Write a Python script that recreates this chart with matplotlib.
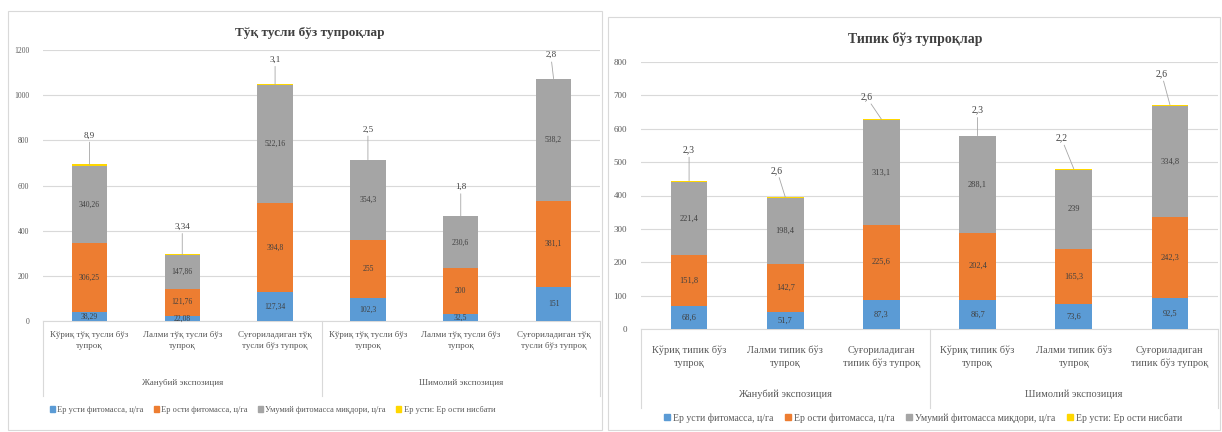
import matplotlib
matplotlib.use("Agg")
import matplotlib.pyplot as plt
from matplotlib.patches import Rectangle
from matplotlib.transforms import blended_transform_factory

plt.rcParams["font.family"] = ["Liberation Serif", "DejaVu Serif"]

# --- data -----------------------------------------------------------------
series_names = [
    "Ер усти фитомасса, ц/га",
    "Ер ости фитомасса, ц/га",
    "Умумий фитомасса миқдори, ц/га",
    "Ер усти: Ер ости нисбати",
]
groups = ["Жанубий экспозиция", "Шимолий экспозиция"]

dark_title = "Тўқ тусли бўз тупроқлар"
dark_cats = [
    "Кўриқ тўқ тусли бўз\nтупроқ", "Лалми тўқ тусли бўз\nтупроқ", "Суғориладиган тўқ\nтусли бўз тупроқ",
    "Кўриқ тўқ тусли бўз\nтупроқ", "Лалми тўқ тусли бўз\nтупроқ", "Суғориладиган тўқ\nтусли бўз тупроқ",
]
dark_above = [38.29, 22.08, 127.34, 102.3, 32.5, 151]
dark_below = [306.25, 121.76, 394.8, 255, 200, 381.1]
dark_total = [340.26, 147.86, 522.16, 354.3, 230.6, 538.2]
dark_ratio = [8.9, 3.34, 3.1, 2.5, 1.8, 2.8]
dark_yticks = [0, 200, 400, 600, 800, 1000, 1200]

typ_title = "Типик бўз тупроқлар"
typ_cats = [
    "Кўриқ типик бўз\nтупроқ", "Лалми типик бўз\nтупроқ", "Суғориладиган\nтипик бўз тупроқ",
    "Кўриқ типик бўз\nтупроқ", "Лалми типик бўз\nтупроқ", "Суғориладиган\nтипик бўз тупроқ",
]
typ_above = [68.6, 51.7, 87.3, 86.7, 73.6, 92.5]
typ_below = [151.8, 142.7, 225.6, 202.4, 165.3, 242.3]
typ_total = [221.4, 198.4, 313.1, 288.1, 239, 334.8]
typ_ratio = [2.3, 2.6, 2.6, 2.3, 2.2, 2.6]
typ_yticks = [0, 100, 200, 300, 400, 500, 600, 700, 800]

# label offsets (points) for the ratio call-outs
dark_offsets = [(0, 18), (0, 17), (0, 15), (0, 19), (0, 18), (-2, 14)]
typ_offsets = [(0, 19), (-6, 16), (-11, 13), (0, 15), (-9, 19), (-6, 19)]

colors = ["#5B9BD5", "#ED7D31", "#A5A5A5", "#FFD700"]
txt = "#404040"


def fmt(v):
    return f"{v:g}".replace(".", ",")


def draw(ax, cats, above, below, total, ratio, yticks, offsets, fs_tick, fs_val, xpad, gy):
    x = list(range(len(cats)))
    w = 0.38
    bottom = [0] * len(x)
    for vals, col in zip([above, below, total], colors[:3]):
        bars = ax.bar(x, vals, w, bottom=bottom, color=col, zorder=3)
        for b, v, b0 in zip(bars, vals, bottom):
            ax.text(b.get_x() + w / 2, b0 + v / 2, fmt(v), ha="center", va="center",
                    fontsize=fs_val, color=txt, zorder=4)
        bottom = [a + v for a, v in zip(bottom, vals)]
    ax.bar(x, ratio, w, bottom=bottom, color=colors[3], zorder=3)
    for xi, top, r, off in zip(x, bottom, ratio, offsets):
        ax.annotate(fmt(r), xy=(xi, top + r), xytext=off, textcoords="offset points",
                    ha="center", va="bottom", fontsize=fs_val + 1, color=txt,
                    arrowprops=dict(arrowstyle="-", color="#A6A6A6", lw=0.6,
                                    shrinkA=0, shrinkB=0))

    ax.set_xlim(-0.5, len(cats) - 0.5)
    ax.set_ylim(yticks[0], yticks[-1])
    ax.set_yticks(yticks)
    ax.tick_params(axis="y", length=0, labelsize=fs_tick - 1, colors="#595959", pad=10)
    ax.set_xticks(x)
    ax.set_xticklabels(cats, fontsize=fs_tick, color="#595959", linespacing=1.5)
    ax.tick_params(axis="x", length=0, pad=xpad)
    ax.grid(axis="y", color="#D9D9D9", lw=0.8, zorder=0)
    for s in ["top", "right", "left"]:
        ax.spines[s].set_visible(False)
    ax.spines["bottom"].set_color("#D9D9D9")

    tr = blended_transform_factory(ax.transData, ax.transAxes)
    for xs in [-0.5, 2.5, 5.5]:
        ax.plot([xs, xs], [0, gy - 0.05], transform=tr, color="#D9D9D9", lw=0.8, clip_on=False)
    for gi, g in enumerate(groups):
        ax.text(1 + 3 * gi, gy, g, transform=tr, ha="center", va="center",
                fontsize=fs_tick, color="#595959")


fig = plt.figure(figsize=(12.22, 4.32), dpi=100)

# panel frames
fig.patches.append(Rectangle((8 / 1222, 2 / 432), 594 / 1222, 419 / 432, transform=fig.transFigure,
                             fill=False, edgecolor="#D9D9D9", lw=0.8))
fig.patches.append(Rectangle((608 / 1222, 2 / 432), 612 / 1222, 413 / 432, transform=fig.transFigure,
                             fill=False, edgecolor="#D9D9D9", lw=0.8))

ax1 = fig.add_axes([43 / 1222, 1 - 321 / 432, 557 / 1222, 271 / 432])
draw(ax1, dark_cats, dark_above, dark_below, dark_total, dark_ratio, dark_yticks,
     dark_offsets, 6.5, 5.5, 7, -0.228)
fig.text(310 / 1222, 1 - 33 / 432, dark_title, ha="center", va="center", fontsize=9.5,
         fontweight="bold", color="#404040")

ax2 = fig.add_axes([641 / 1222, 1 - 329 / 432, 577 / 1222, 267 / 432])
draw(ax2, typ_cats, typ_above, typ_below, typ_total, typ_ratio, typ_yticks,
     typ_offsets, 7.5, 6, 12, -0.245)
fig.text(915 / 1222, 1 - 39 / 432, typ_title, ha="center", va="center", fontsize=10,
         fontweight="bold", color="#404040")

# legends
for y, fs, x0, x1 in [(410, 6, 45, 500), (418, 7, 636, 1210)]:
    handles = [Rectangle((0, 0), 1, 1, color=c) for c in colors]
    fig.legend(handles, series_names, loc="center", ncol=4, frameon=False, fontsize=fs,
               bbox_to_anchor=((x0 + x1) / 2 / 1222, 1 - y / 432),
               handlelength=0.6, handleheight=0.6, handletextpad=0.3, columnspacing=1.2,
               labelcolor="#595959")

fig.savefig("out.png", dpi=100)
